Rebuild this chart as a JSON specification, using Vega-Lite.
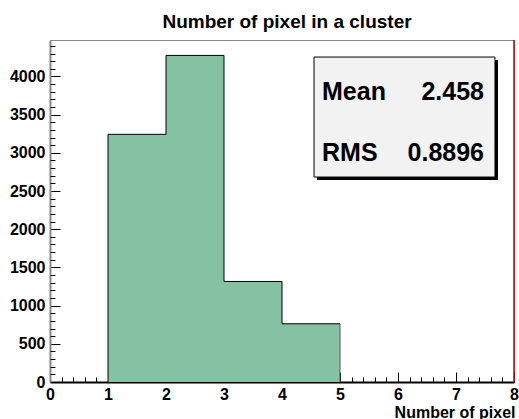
{
  "$schema": "https://vega.github.io/schema/vega-lite/v6.json",
  "autosize": "none",
  "width": 464,
  "height": 342,
  "padding": {"left": 50, "top": 40, "right": 5, "bottom": 37},
  "background": "white",
  "config": {
    "view": {"stroke": "#888888", "strokeWidth": 1},
    "font": "Liberation Sans"
  },
  "title": {
    "text": "Number of pixel in a cluster",
    "font": "Liberation Sans",
    "fontSize": 19,
    "fontWeight": "bold",
    "color": "black",
    "anchor": "middle",
    "frame": "group",
    "baseline": "alphabetic",
    "offset": -8,
    "dx": 5
  },
  "datasets": {
    "bins": [
      {"bin_start": 1, "bin_end": 2, "count": 3242},
      {"bin_start": 2, "bin_end": 3, "count": 4275},
      {"bin_start": 3, "bin_end": 4, "count": 1316},
      {"bin_start": 4, "bin_end": 5, "count": 762}
    ],
    "stats": [
      {"stat": "Mean", "value": "2.458"},
      {"stat": "RMS", "value": "0.8896"}
    ],
    "one": [{}]
  },
  "resolve": {"axis": {"x": "independent", "y": "independent"}},
  "layer": [
    {
      "layer": [
        {
          "data": {"name": "bins"},
          "mark": {"type": "rect", "color": "#85c2a3", "strokeWidth": 0},
          "encoding": {
            "x": {"field": "bin_start", "type": "quantitative",
              "scale": {"domain": [0, 8], "nice": false, "zero": false},
              "axis": {
                "values": [0, 1, 2, 3, 4, 5, 6, 7, 8],
                "format": "d",
                "grid": false,
                "domainColor": "black", "domainWidth": 2,
                "tickColor": "black", "tickWidth": 1, "tickSize": -10,
                "labelFont": "Liberation Sans", "labelFontWeight": "bold", "labelFontSize": 16, "labelColor": "black",
                "labelPadding": 14, "labelFlush": false, "labelOverlap": false, "labelBound": false,
                "title": "Number of pixel",
                "titleFont": "Liberation Sans", "titleFontWeight": "bold", "titleFontSize": 16, "titleColor": "black",
                "titleAnchor": "end", "titleAlign": "right", "titleBaseline": "alphabetic",
                "titleX": 465, "titleY": 35
              }
            },
            "x2": {"field": "bin_end"},
            "y": {"field": "count", "type": "quantitative",
              "scale": {"domain": [0, 4477], "nice": false},
              "axis": {
                "values": [0, 500, 1000, 1500, 2000, 2500, 3000, 3500, 4000],
                "format": "d",
                "grid": false,
                "domainColor": "#888888", "domainWidth": 2,
                "tickColor": "black", "tickWidth": 1, "tickSize": -10,
                "labelFont": "Liberation Sans", "labelFontWeight": "bold", "labelFontSize": 16, "labelColor": "black",
                "labelPadding": 15, "labelOverlap": false, "labelBound": false, "labelFlush": false,
                "title": null
              }
            },
            "y2": {"datum": 0}
          }
        },
        {
          "data": {"name": "bins"},
          "transform": [{"fold": ["bin_start", "bin_end"], "as": ["edge", "xpos"]}],
          "mark": {"type": "line", "color": "black", "strokeWidth": 1},
          "encoding": {
            "x": {"field": "xpos", "type": "quantitative"},
            "y": {"field": "count", "type": "quantitative"},
            "order": [{"field": "xpos", "type": "quantitative"}, {"field": "bin_start", "type": "quantitative"}]
          }
        },
        {
          "data": {"name": "bins"},
          "transform": [{"filter": "datum.bin_start == 1"}],
          "mark": {"type": "rule", "color": "black", "strokeWidth": 1},
          "encoding": {
            "x": {"field": "bin_start", "type": "quantitative"},
            "y": {"field": "count", "type": "quantitative"},
            "y2": {"datum": 0}
          }
        },
        {
          "data": {"name": "bins"},
          "transform": [{"filter": "datum.bin_end == 5"}],
          "mark": {"type": "rule", "color": "#555555", "strokeWidth": 1},
          "encoding": {
            "x": {"field": "bin_end", "type": "quantitative"},
            "y": {"field": "count", "type": "quantitative"},
            "y2": {"datum": 0}
          }
        },
        {
          "data": {"name": "one"},
          "mark": {"type": "rule", "color": "#cc0000", "strokeWidth": 1.5},
          "encoding": {"x": {"datum": 8}}
        },
        {
          "data": {"name": "one"},
          "mark": {"type": "rect", "color": "black"},
          "encoding": {
            "x": {"datum": 4.603}, "x2": {"datum": 7.724},
            "y": {"datum": 4215}, "y2": {"datum": 2644}
          }
        },
        {
          "data": {"name": "one"},
          "mark": {"type": "rect", "fill": "#f2f2f2", "stroke": "black", "strokeWidth": 1},
          "encoding": {
            "x": {"datum": 4.552}, "x2": {"datum": 7.672},
            "y": {"datum": 4254}, "y2": {"datum": 2683}
          }
        },
        {
          "data": {"name": "stats"},
          "transform": [{"filter": "datum.stat == 'Mean'"}],
          "layer": [
            {
              "mark": {"type": "text", "align": "left", "baseline": "alphabetic", "font": "Liberation Sans", "fontWeight": "bold", "fontSize": 25, "color": "black"},
              "encoding": {"x": {"datum": 4.69}, "y": {"datum": 3691}, "text": {"field": "stat"}}
            },
            {
              "mark": {"type": "text", "align": "right", "baseline": "alphabetic", "font": "Liberation Sans", "fontWeight": "bold", "fontSize": 25, "color": "black"},
              "encoding": {"x": {"datum": 7.483}, "y": {"datum": 3691}, "text": {"field": "value"}}
            }
          ]
        },
        {
          "data": {"name": "stats"},
          "transform": [{"filter": "datum.stat == 'RMS'"}],
          "layer": [
            {
              "mark": {"type": "text", "align": "left", "baseline": "alphabetic", "font": "Liberation Sans", "fontWeight": "bold", "fontSize": 25, "color": "black"},
              "encoding": {"x": {"datum": 4.69}, "y": {"datum": 2893}, "text": {"field": "stat"}}
            },
            {
              "mark": {"type": "text", "align": "right", "baseline": "alphabetic", "font": "Liberation Sans", "fontWeight": "bold", "fontSize": 25, "color": "black"},
              "encoding": {"x": {"datum": 7.483}, "y": {"datum": 2893}, "text": {"field": "value"}}
            }
          ]
        }
      ]
    },
    {
      "data": {"name": "bins"},
      "mark": {"type": "point", "opacity": 0},
      "encoding": {
        "x": {"field": "bin_start", "type": "quantitative",
          "scale": {"domain": [0, 8], "nice": false, "zero": false},
          "axis": {
            "orient": "bottom",
            "values": [0.2, 0.4, 0.6, 0.8, 1.2, 1.4, 1.6, 1.8, 2.2, 2.4, 2.6, 2.8, 3.2, 3.4, 3.6, 3.8, 4.2, 4.4, 4.6, 4.8, 5.2, 5.4, 5.6, 5.8, 6.2, 6.4, 6.6, 6.8, 7.2, 7.4, 7.6, 7.8],
            "grid": false, "domain": false, "labels": false, "title": null,
            "tickColor": "black", "tickWidth": 1, "tickSize": -5
          }
        },
        "y": {"field": "count", "type": "quantitative",
          "scale": {"domain": [0, 4477], "nice": false},
          "axis": {
            "orient": "left",
            "values": [100, 200, 300, 400, 600, 700, 800, 900, 1100, 1200, 1300, 1400, 1600, 1700, 1800, 1900, 2100, 2200, 2300, 2400, 2600, 2700, 2800, 2900, 3100, 3200, 3300, 3400, 3600, 3700, 3800, 3900, 4100, 4200, 4300, 4400],
            "grid": false, "domain": false, "labels": false, "title": null,
            "tickColor": "black", "tickWidth": 1, "tickSize": -5
          }
        }
      }
    }
  ]
}
